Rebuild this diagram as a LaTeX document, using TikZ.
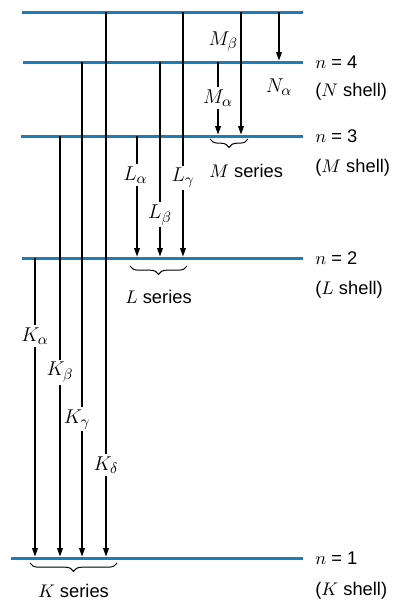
\documentclass[tikz,border=0pt]{standalone}
\usepackage{fontspec}
\setmainfont{Liberation Sans}
\DeclareMathSizes{12}{12}{9}{7}
\usetikzlibrary{arrows.meta,decorations.pathreplacing}
\definecolor{levelblue}{HTML}{1C7DB8}

\begin{document}
\begin{tikzpicture}[x=0.6pt,y=-0.6pt,
  every node/.style={font=\fontsize{11}{13}\selectfont},
  level/.style={levelblue,line width=1.8pt},
  trans/.style={-{Triangle[length=5pt,width=3.4pt]},line width=0.75pt,shorten >=0.9pt},
  lbl/.style={fill=white,inner sep=1.5pt,font=\fontsize{12}{14}\selectfont},
  shell/.style={anchor=west,inner sep=0pt},
  series/.style={decorate,decoration={brace,mirror,amplitude=5pt},line width=0.6pt}]
  \useasboundingbox (0,0) rectangle (398,605);

  % energy levels
  \draw[level] (22,12) -- (303,12) coordinate (top);
  \draw[level] (23,62) -- (303,62) coordinate (n4);
  \draw[level] (21,136) -- (303,136) coordinate (n3);
  \draw[level] (22,258) -- (303,258) coordinate (n2);
  \draw[level] (11,558) -- (303,558) coordinate (n1);

  % shell labels
  \node[shell] (n4a) at (315,62) {$n$ = 4};
  \node[shell] (n4b) at (315,92) {($N$ shell)};
  \node[shell] (n3a) at (315,136) {$n$ = 3};
  \node[shell] (n3b) at (315,168) {($M$ shell)};
  \node[shell] (n2a) at (315,258) {$n$ = 2};
  \node[shell] (n2b) at (315,290) {($L$ shell)};
  \node[shell] (n1a) at (315,558) {$n$ = 1};
  \node[shell] (n1b) at (315,591) {($K$ shell)};

  % transition columns
  \coordinate (ka) at (35,0);
  \coordinate (kb) at (60,0);
  \coordinate (kg) at (82,0);
  \coordinate (kd) at (106,0);
  \coordinate (la) at (137,0);
  \coordinate (lb) at (160,0);
  \coordinate (lg) at (183,0);
  \coordinate (ma) at (218,0);
  \coordinate (mb) at (241,0);
  \coordinate (na) at (279,0);

  % K series
  \draw[trans] (ka |- n2) -- node[lbl,pos=0.26] (kal) {$K_\alpha$} (ka |- n1);
  \draw[trans] (kb |- n3) -- node[lbl,pos=0.56] (kbl) {$K_\beta$} (kb |- n1);
  \draw[trans] (kg |- n4) -- node[lbl,pos=0.72,xshift=-3pt] (kgl) {$K_\gamma$} (kg |- n1);
  \draw[trans] (kd |- top) -- node[lbl,pos=0.83] (kdl) {$K_\delta$} (kd |- n1);

  % L series
  \draw[trans] (la |- n3) -- node[lbl,pos=0.32,xshift=-1pt] (lal) {$L_\alpha$} (la |- n2);
  \draw[trans] (lb |- n4) -- node[lbl,pos=0.78] (lbl) {$L_\beta$} (lb |- n2);
  \draw[trans] (lg |- top) -- node[lbl,pos=0.675] (lgl) {$L_\gamma$} (lg |- n2);

  % M and N series
  \draw[trans] (ma |- n4) -- node[lbl,pos=0.49] (mal) {$M_\alpha$} (ma |- n3);
  \draw[trans] (mb |- top) -- node[lbl,fill=none,left=0pt,pos=0.24] (mbl) {$M_\beta$} (mb |- n3);
  \draw[trans] (na |- top) -- (na |- n4) node[lbl,fill=none,below=8pt] (nal) {$N_\alpha$};

  % braces
  \draw[series] (30,563) -- (117,563) node[midway,below=9pt] (kser) {$K$ series};
  \draw[series] (130,266) -- (187,266) node[midway,below=11pt] (lser) {$L$ series};
  \draw[series] (210,139) -- (248,139);
  \node[anchor=north west,inner sep=0pt] (mser) at (209,164) {$M$ series};
\end{tikzpicture}
\end{document}
